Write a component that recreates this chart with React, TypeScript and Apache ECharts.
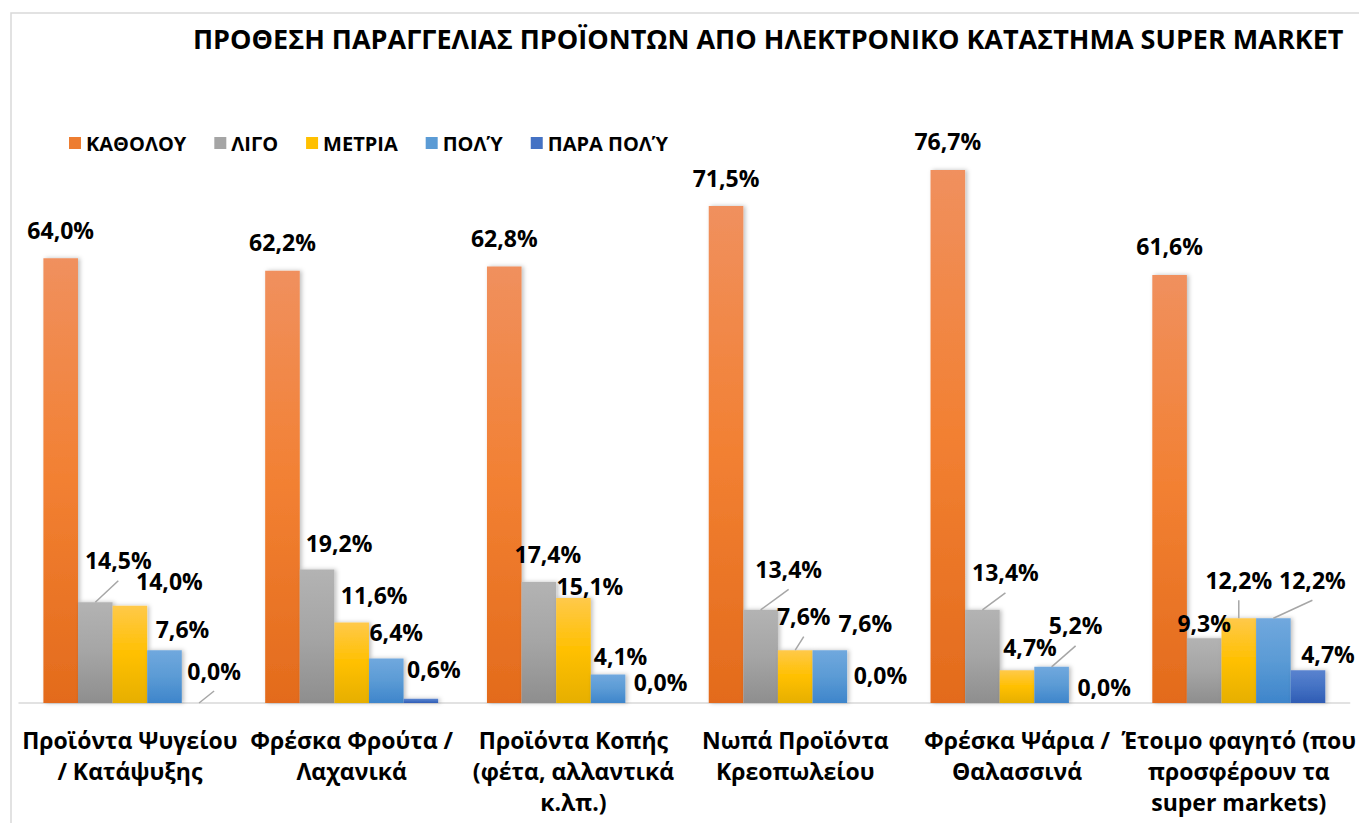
import React, { useEffect, useRef } from "react";
import * as echarts from "echarts";

const titleText = "ΠΡΟΘΕΣΗ ΠΑΡΑΓΓΕΛΙΑΣ ΠΡΟΪΟΝΤΩΝ ΑΠΟ ΗΛΕΚΤΡΟΝΙΚΟ ΚΑΤΑΣΤΗΜΑ SUPER MARKET";

const categories = [
  "Προϊόντα Ψυγείου\n/ Κατάψυξης",
  "Φρέσκα Φρούτα /\nΛαχανικά",
  "Προϊόντα Κοπής\n(φέτα, αλλαντικά\nκ.λπ.)",
  "Νωπά Προϊόντα\nΚρεοπωλείου",
  "Φρέσκα Ψάρια /\nΘαλασσινά",
  "Έτοιμο φαγητό (που\nπροσφέρουν τα\nsuper markets)",
];

const seriesNames = ["ΚΑΘΟΛΟΥ", "ΛΙΓΟ", "ΜΕΤΡΙΑ", "ΠΟΛΎ", "ΠΑΡΑ ΠΟΛΎ"];

const katholou = [64.0, 62.2, 62.8, 71.5, 76.7, 61.6];
const ligo = [14.5, 19.2, 17.4, 13.4, 13.4, 9.3];
const metria = [14.0, 11.6, 15.1, 7.6, 4.7, 12.2];
const poly = [7.6, 6.4, 4.1, 7.6, 5.2, 12.2];
const paraPoly = [0.0, 0.6, 0.0, 0.0, 0.0, 4.7];

const allSeries = [katholou, ligo, metria, poly, paraPoly];

// label nudges (dx, dy) in pixels, per series / category
const labelNudges: number[][][] = [
  [[0, 0], [0, 0], [0, 0], [0, 0], [0, 0], [0, 0]],
  [[23, -13.5], [22, 1.5], [9, 0], [28, -12.5], [23, -9], [0, 13.5]],
  [[39.5, 4], [22.5, 1], [16.5, 16.5], [8.5, -5.5], [13, 5], [0, -10]],
  [[18, 7], [10, 2], [12.5, 10], [35.5, 1], [24, -13], [39, -10]],
  [[15, -4], [13, -1], [18, 7.5], [16, 0], [18, 12], [20, 12.5]],
];
// which labels carry a leader line
const leaderLines: boolean[][] = [
  [false, false, false, false, false, false],
  [true, false, false, true, true, false],
  [false, false, false, true, false, true],
  [false, false, false, false, true, true],
  [true, false, false, false, false, false],
];

const legendColors = ["#ED7D31", "#A5A5A5", "#FFC000", "#5B9BD5", "#4472C4"];
const gradients = [
  ["#F0905E", "#F28032", "#E36B1C"],
  ["#B3B3B3", "#A5A5A5", "#8E8E8E"],
  ["#FFC94A", "#FFC000", "#E6AF00"],
  ["#70A8DE", "#5B9BD5", "#3E85CB"],
  ["#5A83CF", "#4472C4", "#2F5CB4"],
];

const FONT = "'Open Sans', 'Noto Sans', sans-serif";

const borderRect = {
  type: "rect",
  silent: true,
  z: -10,
  shape: { x: 11, y: 13, width: 1400, height: 900 },
  style: { fill: "none", stroke: "#D9D9D9", lineWidth: 1.5 },
};

export default function App() {
  const ref = useRef<HTMLDivElement>(null);

  useEffect(() => {
    if (!ref.current) return;
    const chart = echarts.init(ref.current, undefined, { renderer: "svg" });

    const barRects: Record<string, { cx: number; top: number }> = {};

    const series = allSeries.map((vals, si) => ({
      name: seriesNames[si],
      type: "bar",
      barGap: "0%",
      barCategoryGap: "22%",
      itemStyle: {
        color: new echarts.graphic.LinearGradient(0, 0, 0, 1, [
          { offset: 0, color: gradients[si][0] },
          { offset: 0.5, color: gradients[si][1] },
          { offset: 1, color: gradients[si][2] },
        ]),
        shadowColor: "rgba(0,0,0,0.25)",
        shadowBlur: 4,
        shadowOffsetX: 2,
        shadowOffsetY: 0,
      },
      label: {
        show: true,
        position: "top",
        distance: 17,
        fontFamily: FONT,
        fontSize: 23,
        fontWeight: "bold",
        color: "#000",
        formatter: (p: any) => p.value.toFixed(1).replace(".", ",") + "%",
      },
      labelLayout: (params: any) => {
        const n = labelNudges[params.seriesIndex][params.dataIndex];
        if (params.rect) {
          const r = params.rect;
          barRects[params.seriesIndex + "_" + params.dataIndex] = {
            cx: r.x + r.width / 2,
            top: Math.min(r.y, r.y + r.height),
          };
        }
        return { dx: n[0], dy: n[1] };
      },
      data: vals,
    }));

    chart.setOption({
      animation: false,
      backgroundColor: "#ffffff",
      title: {
        text: titleText,
        left: 188,
        top: 20,
        textStyle: {
          fontFamily: FONT,
          fontSize: 27,
          fontWeight: "bold",
          color: "#000",
        },
      },
      legend: {
        left: 64,
        top: 128,
        icon: "rect",
        itemWidth: 12,
        itemHeight: 12,
        itemGap: 28,
        textStyle: {
          fontFamily: FONT,
          fontSize: 20,
          fontWeight: "bold",
          color: "#000",
        },
        data: seriesNames.map((n, i) => ({
          name: n,
          itemStyle: { color: legendColors[i] },
        })),
      },
      grid: { left: 19, right: 8, top: 147, bottom: 120, containLabel: false },
      xAxis: {
        type: "category",
        data: categories,
        axisLine: { lineStyle: { color: "#D9D9D9", width: 1.5 } },
        axisTick: { show: false },
        axisLabel: {
          interval: 0,
          margin: 21,
          fontFamily: FONT,
          fontSize: 23,
          fontWeight: "bold",
          lineHeight: 31,
          color: "#000",
        },
      },
      yAxis: { type: "value", min: 0, max: 80, show: false },
      graphic: [borderRect],
      series,
    });

    // leader lines from bar tops to moved labels
    const lines: any[] = [];
    leaderLines.forEach((row, si) =>
      row.forEach((on, di) => {
        const b = barRects[si + "_" + di];
        if (!on || !b) return;
        const n = labelNudges[si][di];
        lines.push({
          type: "line",
          silent: true,
          z: 5,
          shape: { x1: b.cx, y1: b.top, x2: b.cx + n[0], y2: b.top - 8 + n[1] },
          style: { stroke: "#A6A6A6", lineWidth: 1.5 },
        });
      })
    );
    chart.setOption({ graphic: [borderRect, ...lines] });

    return () => chart.dispose();
  }, []);

  return (
    <div
      ref={ref}
      style={{ position: "fixed", left: 0, top: 0, width: 1359, height: 823 }}
    />
  );
}
